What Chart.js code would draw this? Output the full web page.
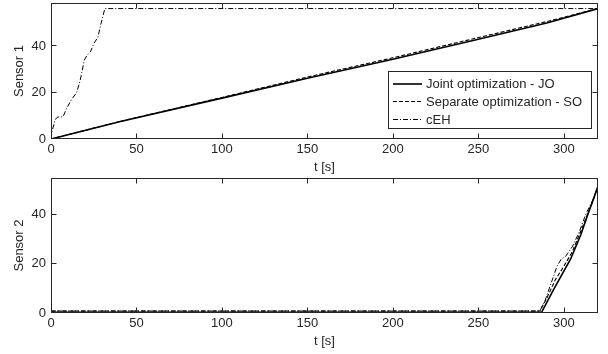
<!DOCTYPE html>
<html><head><meta charset="utf-8">
<script src="https://cdn.jsdelivr.net/npm/chart.js@4.4.0/dist/chart.umd.min.js"></script>
<style>
html,body{margin:0;padding:0;background:#fff;}
#wrap{position:relative;width:608px;height:354px;overflow:hidden;}
canvas{position:absolute;left:0;}
</style></head><body>
<div id="wrap">
<canvas id="c1" width="608" height="175" style="top:0px"></canvas>
<canvas id="c2" width="608" height="179" style="top:175px"></canvas>
</div>
<script>
// ---- data ----
const xTicks = [0, 50, 100, 150, 200, 250, 300];
const yTicks = [0, 20, 40];
const xMax = 320;
const y1Max = 58.6;
const y2Max = 55;
const seriesLabels = ['Joint optimization - JO', 'Separate optimization - SO', 'cEH'];
const yLabels = ['Sensor 1', 'Sensor 2'];
const xLabel = 't [s]';

// Sensor 1
const s1JO_t = [0, 40, 100, 150, 200, 250, 290, 320];
const s1JO_v = [0, 7.4, 17.6, 26.2, 34.4, 43.0, 50.0, 56.2];
const s1SO_t = [0, 40, 100, 150, 200, 250, 290, 320];
const s1SO_v = [0, 7.5, 17.9, 26.7, 35.0, 43.7, 50.6, 56.2];
const s1CE_t = [0, 0.5, 2.5, 4, 7, 9, 12, 15, 17, 19.5, 21, 23, 25, 27.5, 29, 31.5, 320];
const s1CE_v = [0, 3, 8.5, 9.5, 9.5, 13, 17, 20, 25, 34, 36, 37.5, 41, 44, 49, 56.2, 56.2];

// Sensor 2
const s2JO_t = [0, 287, 294, 304, 310, 314, 320];
const s2JO_v = [0.3, 0.3, 9.5, 22, 32, 40, 51.6];
const s2SO_t = [0, 286, 290, 295, 300, 305, 310, 314, 317, 320];
const s2SO_v = [0.8, 0.8, 6, 13.5, 19, 25, 33.5, 40.5, 45.5, 51.6];
const s2CE_t = [0, 286, 289, 293, 296, 298.5, 301, 305, 309, 313, 317, 320];
const s2CE_v = [0.8, 0.8, 5, 13, 19, 22, 23, 27, 33, 40.5, 46, 51.8];

// ---- styles ----
const FONT = '"Liberation Sans", Arial, Helvetica, sans-serif';
const TXT = '#262626';
const styles = [
  {borderWidth: 1.6, borderDash: []},
  {borderWidth: 1.1, borderDash: [4, 2]},
  {borderWidth: 1.0, borderDash: [5, 2, 1, 2]}
];

function pts(t, v) { return t.map((x, i) => ({x: x, y: v[i]})); }
function mkDatasets(list) {
  return list.map((p, i) => Object.assign({
    label: seriesLabels[i],
    data: pts(p[0], p[1]),
    borderColor: '#000',
    pointRadius: 0,
    fill: false,
    tension: 0
  }, styles[i]));
}

const framePlugin = {
  id: 'frame',
  afterDatasetsDraw(chart) {
    const {ctx, chartArea: a, scales: {x, y}} = chart;
    ctx.save();
    ctx.strokeStyle = TXT;
    ctx.lineWidth = 1;
    ctx.setLineDash([]);
    ctx.strokeRect(a.left + 0.5, a.top + 0.5, a.right - a.left - 1, a.bottom - a.top - 1);
    const L = 5.5;
    ctx.beginPath();
    x.ticks.forEach(t => {
      const px = Math.round(x.getPixelForValue(t.value)) + 0.5;
      ctx.moveTo(px, a.bottom); ctx.lineTo(px, a.bottom - L);
      ctx.moveTo(px, a.top); ctx.lineTo(px, a.top + L);
    });
    y.ticks.forEach(t => {
      const py = Math.round(y.getPixelForValue(t.value)) - 0.5;
      ctx.moveTo(a.left, py); ctx.lineTo(a.left + L, py);
      ctx.moveTo(a.right, py); ctx.lineTo(a.right - L, py);
    });
    ctx.stroke();
    ctx.restore();
  }
};

const legendPlugin = {
  id: 'boxLegend',
  afterDraw(chart) {
    const {ctx} = chart;
    const bx = 388.5, by = 71.5, bw = 203, bh = 57;
    ctx.save();
    ctx.fillStyle = '#fff';
    ctx.fillRect(bx, by, bw, bh);
    ctx.strokeStyle = TXT;
    ctx.lineWidth = 1;
    ctx.setLineDash([]);
    ctx.strokeRect(bx, by, bw, bh);
    const rows = [83.5, 101, 119];
    ctx.font = '13px ' + FONT;
    ctx.textBaseline = 'middle';
    ctx.textAlign = 'left';
    chart.data.datasets.forEach((ds, i) => {
      ctx.strokeStyle = '#000';
      ctx.lineWidth = ds.borderWidth;
      ctx.setLineDash(ds.borderDash || []);
      ctx.beginPath();
      ctx.moveTo(393, rows[i] + 0.5);
      ctx.lineTo(422, rows[i] + 0.5);
      ctx.stroke();
      ctx.setLineDash([]);
      ctx.fillStyle = TXT;
      ctx.fillText(ds.label, 426, rows[i] + 1);
    });
    ctx.restore();
  }
};

function makeChart(id, datasets, yMax, o) {
  return new Chart(document.getElementById(id), {
    type: 'line',
    data: {datasets: datasets},
    options: {
      responsive: false,
      animation: false,
      devicePixelRatio: 1,
      layout: {padding: {top: o.padTop, right: 10, left: 0, bottom: 0}},
      plugins: {legend: {display: false}, tooltip: {enabled: false}},
      scales: {
        x: {
          type: 'linear', min: 0, max: xMax,
          afterBuildTicks: s => { s.ticks = xTicks.map(v => ({value: v})); },
          afterFit: s => { s.height = o.xh; s.paddingLeft = 0; s.paddingRight = 0; },
          grid: {display: false, drawTicks: false},
          border: {display: false},
          ticks: {font: {family: FONT, size: 13, lineHeight: 1.2}, color: TXT, padding: 3, maxRotation: 0, autoSkip: false},
          title: {display: true, text: xLabel, color: TXT, font: {family: FONT, size: 13, lineHeight: 1}, padding: {top: 0, bottom: o.xtp}}
        },
        y: {
          type: 'linear', min: 0, max: yMax,
          afterBuildTicks: s => { s.ticks = yTicks.map(v => ({value: v})); },
          afterFit: s => { s.width = 51; s.paddingTop = 0; s.paddingBottom = 0; },
          grid: {display: false, drawTicks: false},
          border: {display: false},
          ticks: {font: {family: FONT, size: 13}, color: TXT, padding: 5},
          title: {display: true, text: o.ylabel, color: TXT, font: {family: FONT, size: 13, lineHeight: 1}, padding: {top: 12.5, bottom: 0}}
        }
      }
    },
    plugins: o.legend ? [framePlugin, legendPlugin] : [framePlugin]
  });
}

makeChart('c1', mkDatasets([[s1JO_t, s1JO_v], [s1SO_t, s1SO_v], [s1CE_t, s1CE_v]]), y1Max,
  {padTop: 3, xh: 36, xtp: 1, ylabel: yLabels[0], legend: true});
makeChart('c2', mkDatasets([[s2JO_t, s2JO_v], [s2SO_t, s2SO_v], [s2CE_t, s2CE_v]]), y2Max,
  {padTop: 3, xh: 41, xtp: 5.8, ylabel: yLabels[1], legend: false});
</script>
</body></html>
